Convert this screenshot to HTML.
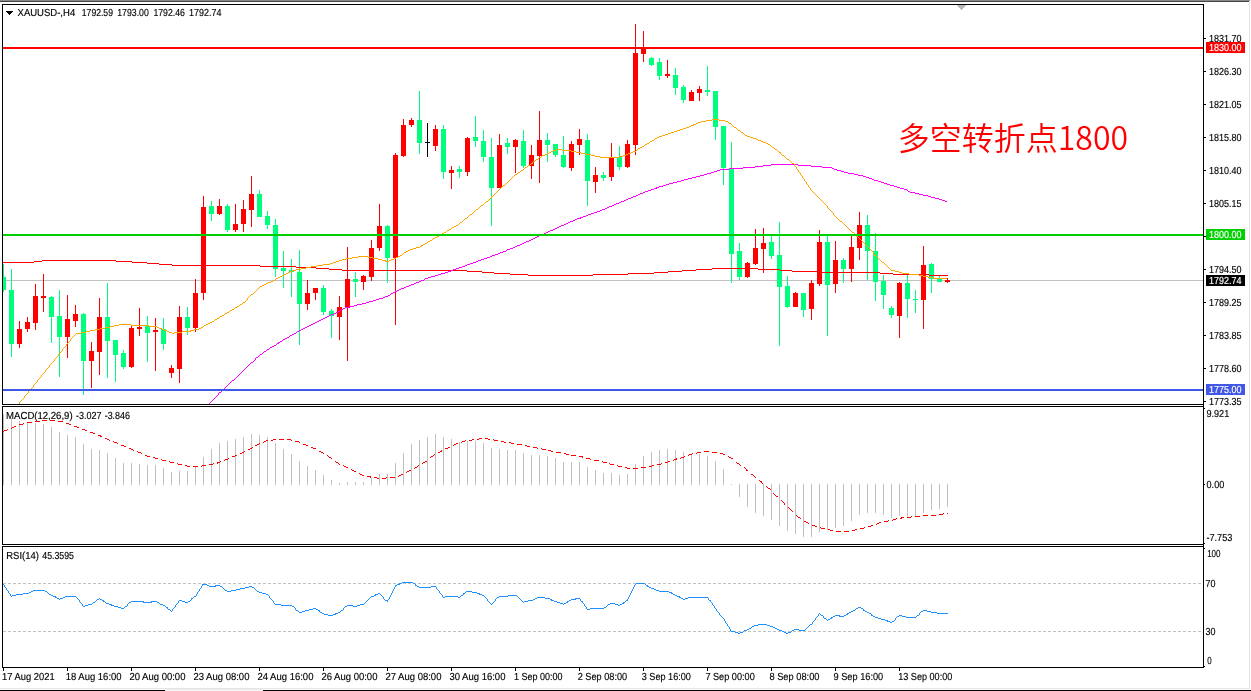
<!DOCTYPE html>
<html lang="en"><head><meta charset="utf-8"><title>XAUUSD H4</title>
<style>
html,body{margin:0;padding:0;background:#fff;}
body{width:1251px;height:691px;overflow:hidden;position:relative;}
svg{position:absolute;left:0;top:0;display:block;}
.t{font-family:"Liberation Sans", sans-serif;font-size:10.2px;fill:#000;stroke:#000;stroke-width:0.15px;text-rendering:geometricPrecision;}
.w{fill:#fff;stroke:#fff;}
.cn{font-family:"Noto Sans CJK SC","Liberation Sans",sans-serif;font-weight:350;font-size:32px;fill:#f00;}
</style></head><body>
<svg width="1251" height="691" viewBox="0 0 1251 691">
<rect x="0" y="0" width="1251" height="691" fill="#fff"/>
<g shape-rendering="crispEdges">
<rect x="0" y="0" width="1250" height="1" fill="#8a8a8a"/>
<rect x="0" y="1" width="1249" height="1" fill="#444444"/>
<rect x="1249" y="2" width="1" height="687" fill="#e6e6e6"/>
<rect x="0" y="688" width="1250" height="1" fill="#e6e6e6"/>
<rect x="165" y="689" width="98" height="1" fill="#ececec"/>
<rect x="165" y="690" width="98" height="1" fill="#f8f8f8"/>
<rect x="0" y="690" width="165" height="1" fill="#000"/>
<rect x="263" y="690" width="988" height="1" fill="#000"/>
<rect x="3" y="280" width="1200" height="1" fill="#c0c0c0"/>
<path fill="#00ff7f" d="M3 264h1v28h-1zM3 277h3v13h-3zM11 269h1v88h-1zM9 290h5v54h-5zM51 296h1v47h-1zM49 297h5v20h-5zM59 290h1v87h-1zM57 316h5v21h-5zM83 313h1v82h-1zM81 314h5v47h-5zM107 283h1v95h-1zM105 317h5v24h-5zM115 340h1v42h-1zM113 340h5v15h-5zM123 350h1v19h-1zM121 353h5v14h-5zM147 316h1v46h-1zM145 326h5v7h-5zM163 318h1v32h-1zM161 329h5v15h-5zM187 307h1v28h-1zM185 317h5v11h-5zM211 201h1v20h-1zM209 206h5v8h-5zM227 204h1v28h-1zM225 206h5v24h-5zM259 190h1v27h-1zM257 194h5v23h-5zM267 211h1v18h-1zM265 216h5v9h-5zM275 219h1v58h-1zM273 225h5v44h-5zM283 251h1v37h-1zM281 268h5v3h-5zM291 259h1v38h-1zM289 270h5v2h-5zM299 250h1v95h-1zM297 272h5v32h-5zM323 285h1v30h-1zM321 288h5v24h-5zM331 309h1v29h-1zM329 311h5v5h-5zM355 272h1v25h-1zM353 279h5v3h-5zM387 225h1v58h-1zM385 226h5v32h-5zM419 91h1v63h-1zM417 120h5v23h-5zM443 125h1v54h-1zM441 129h5v43h-5zM459 166h1v12h-1zM457 169h5v3h-5zM475 116h1v31h-1zM473 137h5v4h-5zM483 130h1v32h-1zM481 141h5v16h-5zM491 138h1v88h-1zM489 157h5v31h-5zM507 138h1v16h-1zM505 143h5v4h-5zM523 130h1v38h-1zM521 141h5v25h-5zM547 133h1v29h-1zM545 140h5v5h-5zM555 144h1v13h-1zM553 144h5v11h-5zM563 136h1v32h-1zM561 155h5v12h-5zM587 134h1v72h-1zM585 140h5v41h-5zM603 172h1v9h-1zM601 175h5v3h-5zM619 146h1v24h-1zM617 157h5v10h-5zM651 57h1v9h-1zM649 58h5v7h-5zM659 58h1v22h-1zM657 62h5v14h-5zM675 68h1v27h-1zM673 75h5v13h-5zM683 85h1v18h-1zM681 87h5v13h-5zM707 66h1v30h-1zM705 90h5v2h-5zM715 91h1v49h-1zM713 91h5v36h-5zM723 126h1v59h-1zM721 126h5v42h-5zM731 142h1v141h-1zM729 168h5v86h-5zM739 243h1v37h-1zM737 251h5v26h-5zM771 236h1v23h-1zM769 242h5v14h-5zM779 222h1v124h-1zM777 255h5v32h-5zM787 276h1v32h-1zM785 286h5v21h-5zM803 293h1v24h-1zM801 293h5v17h-5zM827 236h1v100h-1zM825 242h5v43h-5zM843 258h1v25h-1zM841 260h5v9h-5zM867 215h1v65h-1zM865 225h5v26h-5zM875 233h1v68h-1zM873 251h5v31h-5zM883 275h1v34h-1zM881 281h5v14h-5zM891 306h1v12h-1zM889 308h5v7h-5zM907 275h1v43h-1zM905 283h5v16h-5zM915 290h1v23h-1zM913 299h5v1h-5zM931 263h1v30h-1zM929 264h5v15h-5zM939 276h1v6h-1zM937 278h5v4h-5z"/>
<path fill="#ff0000" d="M19 321h1v27h-1zM17 329h5v15h-5zM27 317h1v15h-1zM25 322h5v7h-5zM35 284h1v46h-1zM33 296h5v27h-5zM43 274h1v38h-1zM41 296h5v2h-5zM67 295h1v63h-1zM65 319h5v18h-5zM75 305h1v22h-1zM73 314h5v7h-5zM91 342h1v46h-1zM89 351h5v10h-5zM99 298h1v77h-1zM97 317h5v35h-5zM131 326h1v42h-1zM129 328h5v39h-5zM139 308h1v28h-1zM137 327h5v2h-5zM155 318h1v53h-1zM153 330h5v2h-5zM171 365h1v13h-1zM169 368h5v5h-5zM179 306h1v77h-1zM177 317h5v52h-5zM195 279h1v53h-1zM193 293h5v35h-5zM203 196h1v104h-1zM201 207h5v86h-5zM219 199h1v16h-1zM217 206h5v8h-5zM235 204h1v28h-1zM233 224h5v6h-5zM243 200h1v32h-1zM241 209h5v15h-5zM251 176h1v51h-1zM249 194h5v16h-5zM307 280h1v30h-1zM305 293h5v11h-5zM315 288h1v12h-1zM313 288h5v5h-5zM339 296h1v44h-1zM337 307h5v10h-5zM347 247h1v114h-1zM345 279h5v29h-5zM363 275h1v15h-1zM361 276h5v6h-5zM371 240h1v41h-1zM369 248h5v29h-5zM379 204h1v47h-1zM377 226h5v22h-5zM395 153h1v172h-1zM393 155h5v103h-5zM403 119h1v38h-1zM401 125h5v31h-5zM411 118h1v9h-1zM409 120h5v5h-5zM435 125h1v26h-1zM433 129h5v17h-5zM451 166h1v23h-1zM449 170h5v3h-5zM467 137h1v39h-1zM465 138h5v34h-5zM499 134h1v54h-1zM497 145h5v43h-5zM515 139h1v34h-1zM513 140h5v7h-5zM531 145h1v34h-1zM529 155h5v11h-5zM539 111h1v72h-1zM537 140h5v16h-5zM571 141h1v30h-1zM569 144h5v24h-5zM579 129h1v26h-1zM577 139h5v6h-5zM595 167h1v26h-1zM593 175h5v7h-5zM611 143h1v38h-1zM609 157h5v20h-5zM627 140h1v28h-1zM625 144h5v23h-5zM635 24h1v131h-1zM633 53h5v92h-5zM643 31h1v31h-1zM641 48h5v6h-5zM667 60h1v18h-1zM665 74h5v2h-5zM691 90h1v11h-1zM689 92h5v9h-5zM699 86h1v15h-1zM697 89h5v4h-5zM747 262h1v16h-1zM745 263h5v14h-5zM755 229h1v36h-1zM753 248h5v16h-5zM763 228h1v45h-1zM761 243h5v6h-5zM795 292h1v15h-1zM793 293h5v14h-5zM811 280h1v40h-1zM809 283h5v26h-5zM819 230h1v56h-1zM817 242h5v42h-5zM835 241h1v52h-1zM833 260h5v24h-5zM851 236h1v46h-1zM849 247h5v22h-5zM859 212h1v48h-1zM857 225h5v23h-5zM899 282h1v56h-1zM897 283h5v33h-5zM923 246h1v83h-1zM921 265h5v35h-5zM947 278h1v5h-1zM945 280h5v2h-5z"/>
<path fill="#000000" d="M427 123h1v34h-1zM425 142h5v1h-5z"/>
<path fill="#ff0000" d="M42 260h74v1h-74zM34 261h8v1h-8zM116 261h16v1h-16zM3 262h31v1h-31zM132 262h15v1h-15zM147 263h12v1h-12zM159 264h13v1h-13zM172 265h88v1h-88zM260 266h36v1h-36zM296 267h20v1h-20zM316 268h13v1h-13zM712 268h46v1h-46zM329 269h13v1h-13zM696 269h16v1h-16zM758 269h22v1h-22zM342 270h125v1h-125zM682 270h14v1h-14zM780 270h12v1h-12zM467 271h15v1h-15zM668 271h14v1h-14zM792 271h28v1h-28zM482 272h12v1h-12zM654 272h14v1h-14zM820 272h60v1h-60zM494 273h16v1h-16zM628 273h26v1h-26zM880 273h13v1h-13zM510 274h18v1h-18zM593 274h35v1h-35zM893 274h36v1h-36zM528 275h65v1h-65zM929 275h19v1h-19zM395 271h1v1h-1z"/>
<path fill="#ff00ff" d="M771 164h27v1h-27zM763 165h8v1h-8zM798 165h13v1h-13zM755 166h8v1h-8zM811 166h11v1h-11zM743 167h12v1h-12zM822 167h10v1h-10zM729 168h14v1h-14zM832 168h2v1h-2zM720 169h9v1h-9zM834 169h3v1h-3zM717 170h3v1h-3zM837 170h4v1h-4zM714 171h3v1h-3zM841 171h3v1h-3zM711 172h3v1h-3zM844 172h4v1h-4zM707 173h4v1h-4zM848 173h6v1h-6zM704 174h3v1h-3zM854 174h4v1h-4zM700 175h4v1h-4zM858 175h5v1h-5zM696 176h4v1h-4zM863 176h3v1h-3zM692 177h4v1h-4zM866 177h3v1h-3zM688 178h4v1h-4zM869 178h3v1h-3zM684 179h4v1h-4zM872 179h2v1h-2zM681 180h3v1h-3zM874 180h4v1h-4zM677 181h4v1h-4zM878 181h3v1h-3zM673 182h4v1h-4zM881 182h3v1h-3zM669 183h4v1h-4zM884 183h3v1h-3zM666 184h3v1h-3zM887 184h3v1h-3zM663 185h3v1h-3zM890 185h4v1h-4zM659 186h4v1h-4zM894 186h3v1h-3zM656 187h3v1h-3zM897 187h3v1h-3zM654 188h3v1h-3zM900 188h4v1h-4zM651 189h3v1h-3zM904 189h3v1h-3zM648 190h3v1h-3zM645 191h3v1h-3zM908 191h2v1h-2zM643 192h2v1h-2zM910 192h5v1h-5zM640 193h3v1h-3zM915 193h4v1h-4zM638 194h2v1h-2zM919 194h4v1h-4zM636 195h2v1h-2zM923 195h5v1h-5zM633 196h3v1h-3zM928 196h3v1h-3zM631 197h2v1h-2zM931 197h4v1h-4zM628 198h3v1h-3zM935 198h4v1h-4zM626 199h2v1h-2zM939 199h3v1h-3zM624 200h2v1h-2zM942 200h3v1h-3zM621 201h3v1h-3zM945 201h2v1h-2zM619 202h2v1h-2zM616 203h3v1h-3zM614 204h2v1h-2zM612 205h2v1h-2zM609 206h3v1h-3zM607 207h2v1h-2zM605 208h2v1h-2zM602 209h3v1h-3zM600 210h2v1h-2zM597 211h3v1h-3zM594 212h3v1h-3zM591 213h3v1h-3zM588 214h3v1h-3zM586 215h2v1h-2zM583 216h3v1h-3zM580 217h3v1h-3zM577 218h4v1h-4zM575 219h2v1h-2zM573 220h2v1h-2zM570 221h3v1h-3zM568 222h2v1h-2zM566 223h2v1h-2zM564 224h2v1h-2zM561 225h3v1h-3zM559 226h2v1h-2zM557 227h2v1h-2zM555 228h2v1h-2zM553 229h2v1h-2zM550 230h3v1h-3zM548 231h2v1h-2zM546 232h2v1h-2zM544 233h2v1h-2zM541 234h3v1h-3zM539 235h2v1h-2zM537 236h2v1h-2zM535 237h2v1h-2zM533 238h2v1h-2zM531 239h2v1h-2zM529 240h2v1h-2zM526 241h3v1h-3zM524 242h2v1h-2zM522 243h2v1h-2zM520 244h2v1h-2zM517 245h3v1h-3zM515 246h2v1h-2zM513 247h2v1h-2zM510 248h3v1h-3zM507 249h3v1h-3zM503 251h3v1h-3zM500 252h3v1h-3zM498 253h2v1h-2zM495 254h3v1h-3zM492 255h3v1h-3zM490 256h2v1h-2zM487 257h3v1h-3zM484 258h3v1h-3zM481 259h3v1h-3zM478 260h3v1h-3zM476 261h2v1h-2zM473 262h3v1h-3zM470 263h3v1h-3zM467 264h3v1h-3zM465 265h2v1h-2zM462 266h3v1h-3zM459 267h3v1h-3zM456 268h3v1h-3zM453 269h3v1h-3zM450 270h3v1h-3zM448 271h3v1h-3zM445 272h3v1h-3zM441 273h4v1h-4zM438 274h3v1h-3zM435 275h3v1h-3zM431 276h4v1h-4zM428 277h3v1h-3zM425 278h3v1h-3zM421 280h3v1h-3zM419 281h2v1h-2zM416 282h3v1h-3zM414 283h2v1h-2zM411 284h3v1h-3zM409 285h2v1h-2zM406 286h3v1h-3zM404 287h2v1h-2zM401 288h3v1h-3zM399 289h2v1h-2zM397 290h2v1h-2zM395 291h2v1h-2zM393 292h2v1h-2zM391 293h2v1h-2zM388 295h2v1h-2zM385 296h3v1h-3zM383 297h2v1h-2zM379 298h4v1h-4zM376 299h3v1h-3zM373 300h3v1h-3zM369 301h4v1h-4zM366 302h3v1h-3zM362 303h4v1h-4zM357 304h5v1h-5zM354 305h3v1h-3zM349 306h5v1h-5zM345 307h4v1h-4zM343 308h2v1h-2zM341 309h2v1h-2zM338 311h2v1h-2zM336 312h2v1h-2zM334 313h2v1h-2zM331 314h3v1h-3zM329 315h2v1h-2zM327 316h2v1h-2zM325 317h2v1h-2zM323 318h2v1h-2zM321 319h2v1h-2zM319 320h2v1h-2zM317 321h2v1h-2zM315 322h2v1h-2zM313 323h2v1h-2zM311 324h2v1h-2zM309 325h2v1h-2zM307 326h2v1h-2zM305 327h2v1h-2zM303 328h2v1h-2zM301 329h2v1h-2zM299 330h2v1h-2zM297 331h2v1h-2zM294 333h2v1h-2zM292 334h2v1h-2zM290 335h2v1h-2zM287 337h2v1h-2zM285 338h2v1h-2zM283 339h2v1h-2zM280 341h2v1h-2zM278 342h2v1h-2zM277 343h2v1h-2zM274 345h2v1h-2zM272 346h2v1h-2zM270 347h2v1h-2zM267 349h2v1h-2zM264 351h2v1h-2zM260 354h2v1h-2zM256 357h2v1h-2zM251 362h2v1h-2zM232 380h2v1h-2zM219 392h2v1h-2zM209 403h1v1h-1zM210 402h1v1h-1zM211 401h1v1h-1zM212 400h1v1h-1zM213 399h1v1h-1zM214 398h1v1h-1zM215 397h1v1h-1zM216 396h1v1h-1zM217 395h1v1h-1zM218 393h1v2h-1zM221 391h1v1h-1zM222 390h1v1h-1zM223 389h1v1h-1zM224 388h1v1h-1zM225 387h1v1h-1zM226 386h1v1h-1zM227 385h1v1h-1zM228 384h1v1h-1zM229 383h1v1h-1zM230 382h1v1h-1zM231 381h1v1h-1zM234 379h1v1h-1zM235 378h1v1h-1zM236 377h1v1h-1zM237 376h1v1h-1zM238 375h1v1h-1zM239 374h1v1h-1zM240 373h1v1h-1zM241 372h1v1h-1zM242 371h1v1h-1zM243 370h1v1h-1zM244 369h1v1h-1zM245 368h1v1h-1zM246 367h1v1h-1zM247 366h1v1h-1zM248 365h1v1h-1zM249 364h1v1h-1zM250 363h1v1h-1zM253 361h1v1h-1zM254 360h1v1h-1zM255 358h1v2h-1zM258 356h1v1h-1zM259 355h1v1h-1zM262 353h1v1h-1zM263 352h1v1h-1zM266 350h1v1h-1zM269 348h1v1h-1zM276 344h1v1h-1zM282 340h1v1h-1zM289 336h1v1h-1zM296 332h1v1h-1zM340 310h1v1h-1zM390 294h1v1h-1zM424 279h1v1h-1zM506 250h1v1h-1zM907 190h1v1h-1z"/>
<path fill="#ffa500" d="M712 119h7v1h-7zM706 120h6v1h-6zM719 120h6v1h-6zM701 121h5v1h-5zM725 121h3v1h-3zM698 122h3v1h-3zM696 123h2v1h-2zM729 123h2v1h-2zM693 124h3v1h-3zM691 125h3v1h-3zM689 126h2v1h-2zM686 127h3v1h-3zM734 127h2v1h-2zM683 128h3v1h-3zM680 129h3v1h-3zM677 130h3v1h-3zM738 130h2v1h-2zM674 131h3v1h-3zM671 132h3v1h-3zM741 132h2v1h-2zM668 133h3v1h-3zM665 134h3v1h-3zM662 135h3v1h-3zM745 135h2v1h-2zM659 136h3v1h-3zM747 136h3v1h-3zM657 137h2v1h-2zM750 137h3v1h-3zM655 138h2v1h-2zM753 138h3v1h-3zM756 139h2v1h-2zM652 140h2v1h-2zM758 140h3v1h-3zM650 141h2v1h-2zM761 141h2v1h-2zM763 142h3v1h-3zM647 143h2v1h-2zM766 143h2v1h-2zM645 144h2v1h-2zM768 144h2v1h-2zM642 146h2v1h-2zM640 147h2v1h-2zM772 147h2v1h-2zM638 148h2v1h-2zM556 149h6v1h-6zM775 149h2v1h-2zM553 150h3v1h-3zM562 150h9v1h-9zM551 151h2v1h-2zM571 151h5v1h-5zM633 151h3v1h-3zM549 152h2v1h-2zM576 152h5v1h-5zM631 152h2v1h-2zM779 152h2v1h-2zM547 153h2v1h-2zM581 153h5v1h-5zM628 153h3v1h-3zM545 154h2v1h-2zM586 154h5v1h-5zM626 154h2v1h-2zM542 155h3v1h-3zM591 155h4v1h-4zM623 155h3v1h-3zM782 155h2v1h-2zM595 156h5v1h-5zM619 156h4v1h-4zM539 157h2v1h-2zM600 157h19v1h-19zM536 159h2v1h-2zM787 159h2v1h-2zM533 161h2v1h-2zM531 163h2v1h-2zM792 163h2v1h-2zM528 165h2v1h-2zM525 167h2v1h-2zM521 170h2v1h-2zM518 172h2v1h-2zM515 174h2v1h-2zM503 185h2v1h-2zM491 196h2v1h-2zM486 201h2v1h-2zM481 205h2v1h-2zM476 209h2v1h-2zM470 214h2v1h-2zM465 218h2v1h-2zM840 221h2v1h-2zM460 222h2v1h-2zM456 225h2v1h-2zM454 226h2v1h-2zM452 227h2v1h-2zM449 229h2v1h-2zM447 230h2v1h-2zM444 232h2v1h-2zM852 232h2v1h-2zM442 233h2v1h-2zM440 234h2v1h-2zM437 236h2v1h-2zM856 236h2v1h-2zM435 237h2v1h-2zM433 238h2v1h-2zM430 240h2v1h-2zM428 241h2v1h-2zM425 243h2v1h-2zM423 244h2v1h-2zM421 245h2v1h-2zM420 246h2v1h-2zM416 247h4v1h-4zM413 248h3v1h-3zM410 249h3v1h-3zM408 250h2v1h-2zM406 251h2v1h-2zM404 252h2v1h-2zM400 255h2v1h-2zM874 255h2v1h-2zM358 256h10v1h-10zM398 256h2v1h-2zM352 257h6v1h-6zM368 257h5v1h-5zM396 257h2v1h-2zM346 258h6v1h-6zM373 258h5v1h-5zM394 258h2v1h-2zM342 259h4v1h-4zM378 259h4v1h-4zM391 259h3v1h-3zM339 260h3v1h-3zM382 260h4v1h-4zM389 260h2v1h-2zM336 261h3v1h-3zM385 261h4v1h-4zM333 262h3v1h-3zM882 262h2v1h-2zM330 263h3v1h-3zM323 264h7v1h-7zM317 265h6v1h-6zM311 266h6v1h-6zM306 267h5v1h-5zM301 268h5v1h-5zM296 269h5v1h-5zM292 270h4v1h-4zM891 270h4v1h-4zM290 271h2v1h-2zM895 271h4v1h-4zM288 272h2v1h-2zM899 272h3v1h-3zM286 273h2v1h-2zM902 273h7v1h-7zM284 274h2v1h-2zM909 274h10v1h-10zM282 275h2v1h-2zM919 275h4v1h-4zM280 276h2v1h-2zM923 276h5v1h-5zM278 277h2v1h-2zM928 277h5v1h-5zM276 278h2v1h-2zM933 278h14v1h-14zM273 280h2v1h-2zM271 281h2v1h-2zM268 282h3v1h-3zM266 283h2v1h-2zM264 284h2v1h-2zM262 285h2v1h-2zM260 286h2v1h-2zM251 294h2v1h-2zM243 302h2v1h-2zM240 304h2v1h-2zM237 306h2v1h-2zM235 307h2v1h-2zM232 309h2v1h-2zM230 310h2v1h-2zM227 312h2v1h-2zM225 313h2v1h-2zM222 315h2v1h-2zM220 316h2v1h-2zM217 318h2v1h-2zM215 319h2v1h-2zM212 321h2v1h-2zM210 322h2v1h-2zM208 323h2v1h-2zM119 324h12v1h-12zM206 324h2v1h-2zM114 325h5v1h-5zM131 325h18v1h-18zM204 325h2v1h-2zM110 326h4v1h-4zM149 326h8v1h-8zM105 327h5v1h-5zM157 327h2v1h-2zM201 327h2v1h-2zM100 328h5v1h-5zM159 328h3v1h-3zM199 328h2v1h-2zM95 329h5v1h-5zM162 329h2v1h-2zM194 329h5v1h-5zM90 330h5v1h-5zM164 330h3v1h-3zM190 330h4v1h-4zM86 331h4v1h-4zM167 331h2v1h-2zM182 331h9v1h-9zM81 332h5v1h-5zM169 332h3v1h-3zM174 332h8v1h-8zM76 333h5v1h-5zM172 333h2v1h-2zM19 402h1v2h-1zM20 401h1v1h-1zM21 400h1v1h-1zM22 399h1v1h-1zM23 398h1v1h-1zM24 396h1v2h-1zM25 395h1v1h-1zM26 394h1v1h-1zM27 393h1v1h-1zM28 391h1v2h-1zM29 390h1v1h-1zM30 389h1v1h-1zM31 388h1v1h-1zM32 387h1v1h-1zM33 385h1v2h-1zM34 384h1v1h-1zM35 383h1v1h-1zM36 382h1v1h-1zM37 380h1v2h-1zM38 379h1v1h-1zM39 378h1v1h-1zM40 377h1v1h-1zM41 375h1v2h-1zM42 374h1v1h-1zM43 373h1v1h-1zM44 372h1v1h-1zM45 370h1v2h-1zM46 369h1v1h-1zM47 368h1v1h-1zM48 367h1v1h-1zM49 365h1v2h-1zM50 364h1v1h-1zM51 363h1v1h-1zM52 362h1v1h-1zM53 361h1v1h-1zM54 359h1v2h-1zM55 358h1v1h-1zM56 357h1v1h-1zM57 356h1v1h-1zM58 354h1v2h-1zM59 353h1v1h-1zM60 352h1v1h-1zM61 351h1v1h-1zM62 349h1v2h-1zM63 348h1v1h-1zM64 347h1v1h-1zM65 346h1v1h-1zM66 344h1v2h-1zM67 343h1v1h-1zM68 342h1v1h-1zM69 341h1v1h-1zM70 339h1v2h-1zM71 338h1v1h-1zM72 337h1v1h-1zM73 336h1v1h-1zM74 335h1v1h-1zM75 334h1v1h-1zM203 326h1v1h-1zM214 320h1v1h-1zM219 317h1v1h-1zM224 314h1v1h-1zM229 311h1v1h-1zM234 308h1v1h-1zM239 305h1v1h-1zM242 303h1v1h-1zM245 301h1v1h-1zM246 300h1v1h-1zM247 298h1v2h-1zM248 297h1v1h-1zM249 296h1v1h-1zM250 295h1v1h-1zM253 293h1v1h-1zM254 292h1v1h-1zM255 291h1v1h-1zM256 290h1v1h-1zM257 289h1v1h-1zM258 288h1v1h-1zM259 287h1v1h-1zM275 279h1v1h-1zM402 254h1v1h-1zM403 253h1v1h-1zM427 242h1v1h-1zM432 239h1v1h-1zM439 235h1v1h-1zM446 231h1v1h-1zM451 228h1v1h-1zM458 224h1v1h-1zM459 223h1v1h-1zM462 221h1v1h-1zM463 220h1v1h-1zM464 219h1v1h-1zM467 217h1v1h-1zM468 216h1v1h-1zM469 215h1v1h-1zM472 213h1v1h-1zM473 212h1v1h-1zM474 211h1v1h-1zM475 210h1v1h-1zM478 208h1v1h-1zM479 207h1v1h-1zM480 206h1v1h-1zM483 204h1v1h-1zM484 203h1v1h-1zM485 202h1v1h-1zM488 200h1v1h-1zM489 199h1v1h-1zM490 198h1v1h-1zM491 197h1v1h-1zM493 195h1v1h-1zM494 194h1v1h-1zM495 193h1v1h-1zM496 192h1v1h-1zM497 191h1v1h-1zM498 190h1v1h-1zM499 189h1v1h-1zM500 188h1v1h-1zM501 187h1v1h-1zM502 186h1v1h-1zM505 184h1v1h-1zM506 183h1v1h-1zM507 182h1v1h-1zM508 181h1v1h-1zM509 180h1v1h-1zM510 179h1v1h-1zM511 178h1v1h-1zM512 177h1v1h-1zM513 176h1v1h-1zM514 175h1v1h-1zM517 173h1v1h-1zM520 171h1v1h-1zM523 169h1v1h-1zM524 168h1v1h-1zM527 166h1v1h-1zM530 164h1v1h-1zM532 162h1v1h-1zM535 160h1v1h-1zM538 158h1v1h-1zM541 156h1v1h-1zM636 150h1v1h-1zM637 149h1v1h-1zM644 145h1v1h-1zM649 142h1v1h-1zM654 139h1v1h-1zM728 122h1v1h-1zM731 124h1v1h-1zM732 125h1v1h-1zM733 126h1v1h-1zM736 128h1v1h-1zM737 129h1v1h-1zM740 131h1v1h-1zM743 133h1v1h-1zM744 134h1v1h-1zM770 145h1v1h-1zM771 146h1v1h-1zM774 148h1v1h-1zM777 150h1v1h-1zM778 151h1v1h-1zM780 153h1v1h-1zM781 154h1v1h-1zM784 156h1v1h-1zM785 157h1v1h-1zM786 158h1v1h-1zM789 160h1v1h-1zM790 161h1v1h-1zM791 162h1v1h-1zM794 164h1v2h-1zM795 166h1v1h-1zM796 167h1v2h-1zM797 169h1v1h-1zM798 170h1v2h-1zM799 172h1v1h-1zM800 173h1v2h-1zM801 175h1v1h-1zM802 176h1v2h-1zM803 178h1v1h-1zM804 179h1v2h-1zM805 181h1v1h-1zM806 182h1v2h-1zM807 184h1v1h-1zM808 185h1v2h-1zM809 187h1v1h-1zM810 188h1v2h-1zM811 190h1v1h-1zM812 191h1v1h-1zM813 192h1v1h-1zM814 193h1v1h-1zM815 194h1v1h-1zM816 195h1v1h-1zM817 196h1v1h-1zM818 197h1v1h-1zM819 198h1v1h-1zM820 199h1v1h-1zM821 200h1v1h-1zM822 201h1v1h-1zM823 202h1v1h-1zM824 203h1v1h-1zM825 204h1v1h-1zM826 205h1v1h-1zM827 206h1v2h-1zM828 208h1v1h-1zM829 209h1v1h-1zM830 210h1v1h-1zM831 211h1v1h-1zM832 212h1v1h-1zM833 213h1v2h-1zM834 215h1v1h-1zM835 216h1v1h-1zM836 217h1v1h-1zM837 218h1v1h-1zM838 219h1v1h-1zM839 220h1v1h-1zM842 222h1v1h-1zM843 223h1v1h-1zM844 224h1v1h-1zM845 225h1v1h-1zM846 226h1v1h-1zM847 227h1v1h-1zM848 228h1v1h-1zM849 229h1v1h-1zM850 230h1v1h-1zM851 231h1v1h-1zM854 233h1v1h-1zM855 234h1v2h-1zM858 237h1v1h-1zM859 238h1v1h-1zM860 239h1v1h-1zM861 240h1v1h-1zM862 241h1v1h-1zM863 242h1v1h-1zM864 243h1v1h-1zM865 244h1v1h-1zM866 245h1v1h-1zM867 246h1v1h-1zM868 247h1v1h-1zM869 248h1v1h-1zM870 249h1v1h-1zM871 250h1v1h-1zM872 251h1v1h-1zM873 252h1v2h-1zM874 254h1v1h-1zM876 256h1v1h-1zM877 257h1v1h-1zM878 258h1v1h-1zM879 259h1v1h-1zM880 260h1v1h-1zM881 261h1v1h-1zM884 263h1v1h-1zM885 264h1v1h-1zM886 265h1v1h-1zM887 266h1v1h-1zM888 267h1v1h-1zM889 268h1v1h-1zM890 269h1v1h-1z"/>
<rect x="3" y="47" width="1200" height="2" fill="#ff0000"/>
<rect x="3" y="234" width="1200" height="2" fill="#00d000"/>
<rect x="3" y="389" width="1200" height="2" fill="#4158e6"/>
<path fill="#c0c0c0" d="M3 414h1v71h-1zM11 418h1v67h-1zM19 421h1v64h-1zM27 422h1v63h-1zM35 423h1v62h-1zM43 424h1v61h-1zM51 427h1v58h-1zM59 432h1v53h-1zM67 435h1v50h-1zM75 437h1v48h-1zM83 444h1v41h-1zM91 449h1v36h-1zM99 450h1v35h-1zM107 453h1v32h-1zM115 458h1v27h-1zM123 463h1v22h-1zM131 463h1v22h-1zM139 464h1v21h-1zM147 465h1v20h-1zM155 465h1v20h-1zM163 468h1v17h-1zM171 472h1v13h-1zM179 471h1v14h-1zM187 471h1v14h-1zM195 467h1v18h-1zM203 457h1v28h-1zM211 449h1v36h-1zM219 443h1v42h-1zM227 441h1v44h-1zM235 439h1v46h-1zM243 437h1v48h-1zM251 434h1v51h-1zM259 435h1v50h-1zM267 437h1v48h-1zM275 443h1v42h-1zM283 449h1v36h-1zM291 454h1v31h-1zM299 461h1v24h-1zM307 466h1v19h-1zM315 470h1v15h-1zM323 475h1v10h-1zM331 480h1v5h-1zM339 483h1v2h-1zM347 482h1v3h-1zM355 482h1v3h-1zM363 482h1v3h-1zM371 478h1v7h-1zM379 474h1v11h-1zM387 474h1v11h-1zM395 463h1v22h-1zM403 453h1v32h-1zM411 444h1v41h-1zM419 440h1v45h-1zM427 437h1v48h-1zM435 434h1v51h-1zM443 437h1v48h-1zM451 439h1v46h-1zM459 442h1v43h-1zM467 441h1v44h-1zM475 441h1v44h-1zM483 443h1v42h-1zM491 448h1v37h-1zM499 449h1v36h-1zM507 450h1v35h-1zM515 450h1v35h-1zM523 453h1v32h-1zM531 455h1v30h-1zM539 455h1v30h-1zM547 456h1v29h-1zM555 458h1v27h-1zM563 462h1v23h-1zM571 462h1v23h-1zM579 462h1v23h-1zM587 467h1v18h-1zM595 470h1v15h-1zM603 473h1v12h-1zM611 473h1v12h-1zM619 475h1v10h-1zM627 474h1v11h-1zM635 464h1v21h-1zM643 456h1v29h-1zM651 452h1v33h-1zM659 450h1v35h-1zM667 449h1v36h-1zM675 450h1v35h-1zM683 452h1v33h-1zM691 454h1v31h-1zM699 454h1v31h-1zM707 456h1v29h-1zM715 461h1v24h-1zM723 469h1v16h-1zM731 484h1v1h-1zM739 484h1v13h-1zM747 484h1v23h-1zM755 484h1v29h-1zM763 484h1v32h-1zM771 484h1v36h-1zM779 484h1v42h-1zM787 484h1v47h-1zM795 484h1v50h-1zM803 484h1v53h-1zM811 484h1v53h-1zM819 484h1v48h-1zM827 484h1v46h-1zM835 484h1v44h-1zM843 484h1v42h-1zM851 484h1v37h-1zM859 484h1v31h-1zM867 484h1v29h-1zM875 484h1v29h-1zM883 484h1v31h-1zM891 484h1v34h-1zM899 484h1v32h-1zM907 484h1v33h-1zM915 484h1v32h-1zM923 484h1v29h-1zM931 484h1v26h-1zM939 484h1v25h-1zM947 484h1v23h-1z"/>
<path fill="#ff0000" d="M42 420h5v1h-5zM50 420h5v1h-5zM35 421h5v1h-5zM58 421h5v1h-5zM27 422h5v1h-5zM66 423h3v1h-3zM19 424h4v1h-4zM69 424h2v1h-2zM14 426h2v1h-2zM74 426h3v1h-3zM12 427h2v1h-2zM77 427h2v1h-2zM82 429h3v1h-3zM4 430h3v1h-3zM85 430h2v1h-2zM90 432h3v1h-3zM93 433h2v1h-2zM98 435h3v1h-3zM100 436h2v1h-2zM105 438h2v1h-2zM479 438h3v1h-3zM485 438h3v1h-3zM107 439h2v1h-2zM273 439h3v1h-3zM279 439h5v1h-5zM287 439h4v1h-4zM472 439h2v1h-2zM477 439h2v1h-2zM488 439h2v1h-2zM266 440h2v1h-2zM271 440h2v1h-2zM469 440h3v1h-3zM494 440h4v1h-4zM264 441h2v1h-2zM295 441h4v1h-4zM462 441h3v1h-3zM501 441h3v1h-3zM114 442h3v1h-3zM504 442h2v1h-2zM509 442h2v1h-2zM456 443h2v1h-2zM511 443h3v1h-3zM257 444h2v1h-2zM303 444h3v1h-3zM454 444h2v1h-2zM517 444h5v1h-5zM121 445h3v1h-3zM255 445h2v1h-2zM306 445h2v1h-2zM525 445h2v1h-2zM124 446h2v1h-2zM527 446h3v1h-3zM311 447h2v1h-2zM448 447h2v1h-2zM533 447h4v1h-4zM129 448h2v1h-2zM250 448h2v1h-2zM313 448h3v1h-3zM445 448h3v1h-3zM131 449h2v1h-2zM248 449h2v1h-2zM542 449h4v1h-4zM548 450h3v1h-3zM319 451h2v1h-2zM440 451h2v1h-2zM551 451h2v1h-2zM704 451h5v1h-5zM138 452h3v1h-3zM242 452h2v1h-2zM321 452h2v1h-2zM438 452h2v1h-2zM556 452h5v1h-5zM697 452h4v1h-4zM712 452h5v1h-5zM240 453h2v1h-2zM564 453h2v1h-2zM720 453h3v1h-3zM566 454h3v1h-3zM689 454h3v1h-3zM723 454h2v1h-2zM145 455h2v1h-2zM235 455h2v1h-2zM571 455h5v1h-5zM147 456h3v1h-3zM232 456h3v1h-3zM431 456h2v1h-2zM579 456h4v1h-4zM153 457h2v1h-2zM329 457h2v1h-2zM681 457h3v1h-3zM729 457h2v1h-2zM155 458h3v1h-3zM586 458h4v1h-4zM731 458h2v1h-2zM225 459h3v1h-3zM674 459h3v1h-3zM162 460h4v1h-4zM594 460h5v1h-5zM425 461h2v1h-2zM668 461h2v1h-2zM170 462h4v1h-4zM217 462h3v1h-3zM336 462h2v1h-2zM423 462h2v1h-2zM603 462h4v1h-4zM665 462h3v1h-3zM737 463h2v1h-2zM178 464h4v1h-4zM209 464h4v1h-4zM610 464h4v1h-4zM657 464h4v1h-4zM185 465h2v1h-2zM202 465h4v1h-4zM652 465h2v1h-2zM187 466h3v1h-3zM193 466h5v1h-5zM344 466h2v1h-2zM618 466h4v1h-4zM649 466h3v1h-3zM346 467h2v1h-2zM415 467h2v1h-2zM625 467h2v1h-2zM641 467h5v1h-5zM627 468h3v1h-3zM633 468h5v1h-5zM352 470h2v1h-2zM409 470h2v1h-2zM746 470h2v1h-2zM354 471h2v1h-2zM407 471h2v1h-2zM360 474h2v1h-2zM401 474h2v1h-2zM751 474h2v1h-2zM362 475h2v1h-2zM399 475h2v1h-2zM367 476h4v1h-4zM374 477h3v1h-3zM390 477h5v1h-5zM377 478h2v1h-2zM382 478h4v1h-4zM760 481h2v1h-2zM768 488h2v1h-2zM776 496h2v1h-2zM939 514h4v1h-4zM923 515h5v1h-5zM931 515h5v1h-5zM915 516h5v1h-5zM798 517h2v1h-2zM901 517h3v1h-3zM907 517h4v1h-4zM900 518h2v1h-2zM893 519h3v1h-3zM804 521h2v1h-2zM884 521h4v1h-4zM806 522h2v1h-2zM879 522h2v1h-2zM877 523h2v1h-2zM812 525h3v1h-3zM871 525h2v1h-2zM815 526h2v1h-2zM868 526h3v1h-3zM821 528h4v1h-4zM860 528h4v1h-4zM828 529h2v1h-2zM855 529h2v1h-2zM830 530h3v1h-3zM852 530h3v1h-3zM836 531h5v1h-5zM844 531h5v1h-5zM3 431h1v1h-1zM7 429h1v1h-1zM11 428h1v1h-1zM23 423h1v1h-1zM109 440h1v1h-1zM113 441h1v1h-1zM117 443h1v1h-1zM133 450h1v1h-1zM137 451h1v1h-1zM141 453h1v1h-1zM161 459h1v1h-1zM169 461h1v1h-1zM177 463h1v1h-1zM201 466h1v1h-1zM213 463h1v1h-1zM217 463h1v1h-1zM220 461h1v1h-1zM224 460h1v1h-1zM228 458h1v1h-1zM244 451h1v1h-1zM252 447h1v1h-1zM259 443h1v1h-1zM263 442h1v1h-1zM291 440h1v1h-1zM299 442h1v1h-1zM323 453h1v1h-1zM327 455h1v1h-1zM328 456h1v1h-1zM331 458h1v1h-1zM335 461h1v1h-1zM338 463h1v1h-1zM339 464h1v1h-1zM343 465h1v1h-1zM351 469h1v1h-1zM359 473h1v1h-1zM370 477h1v1h-1zM386 477h1v1h-1zM398 476h1v1h-1zM406 472h1v1h-1zM414 468h1v1h-1zM417 466h1v1h-1zM418 465h1v1h-1zM422 463h1v1h-1zM430 457h1v1h-1zM433 455h1v1h-1zM434 454h1v1h-1zM441 450h1v1h-1zM453 445h1v1h-1zM461 442h1v1h-1zM465 440h1v1h-1zM493 439h1v1h-1zM537 448h1v1h-1zM541 448h1v1h-1zM582 457h1v1h-1zM590 459h1v1h-1zM602 461h1v1h-1zM609 463h1v1h-1zM617 465h1v1h-1zM661 463h1v1h-1zM673 460h1v1h-1zM676 458h1v1h-1zM680 458h1v1h-1zM684 456h1v1h-1zM688 455h1v1h-1zM692 453h1v1h-1zM696 453h1v1h-1zM728 456h1v1h-1zM736 462h1v1h-1zM739 464h1v1h-1zM740 465h1v1h-1zM744 467h1v1h-1zM745 468h1v1h-1zM746 469h1v1h-1zM753 475h1v1h-1zM754 476h1v1h-1zM755 477h1v1h-1zM759 480h1v1h-1zM761 482h1v1h-1zM762 483h1v1h-1zM766 486h1v1h-1zM767 487h1v1h-1zM770 489h1v1h-1zM773 493h1v1h-1zM774 494h1v1h-1zM775 495h1v1h-1zM781 500h1v1h-1zM782 501h1v1h-1zM783 502h1v1h-1zM784 503h1v2h-1zM788 507h1v1h-1zM789 508h1v1h-1zM790 509h1v1h-1zM791 510h1v1h-1zM792 511h1v1h-1zM796 515h1v1h-1zM797 516h1v1h-1zM800 518h1v1h-1zM808 523h1v1h-1zM820 527h1v1h-1zM864 527h1v1h-1zM876 524h1v1h-1zM888 520h1v1h-1zM892 520h1v1h-1zM896 518h1v1h-1zM911 516h1v1h-1zM943 513h1v1h-1zM947 513h1v1h-1z"/>
<path fill="#c0c0c0" d="M3 583h3v1h-3zM8 583h3v1h-3zM13 583h3v1h-3zM18 583h3v1h-3zM23 583h3v1h-3zM28 583h3v1h-3zM33 583h3v1h-3zM38 583h3v1h-3zM43 583h3v1h-3zM48 583h3v1h-3zM53 583h3v1h-3zM58 583h3v1h-3zM63 583h3v1h-3zM68 583h3v1h-3zM73 583h3v1h-3zM78 583h3v1h-3zM83 583h3v1h-3zM88 583h3v1h-3zM93 583h3v1h-3zM98 583h3v1h-3zM103 583h3v1h-3zM108 583h3v1h-3zM113 583h3v1h-3zM118 583h3v1h-3zM123 583h3v1h-3zM128 583h3v1h-3zM133 583h3v1h-3zM138 583h3v1h-3zM143 583h3v1h-3zM148 583h3v1h-3zM153 583h3v1h-3zM158 583h3v1h-3zM163 583h3v1h-3zM168 583h3v1h-3zM173 583h3v1h-3zM178 583h3v1h-3zM183 583h3v1h-3zM188 583h3v1h-3zM193 583h3v1h-3zM198 583h3v1h-3zM203 583h3v1h-3zM208 583h3v1h-3zM213 583h3v1h-3zM218 583h3v1h-3zM223 583h3v1h-3zM228 583h3v1h-3zM233 583h3v1h-3zM238 583h3v1h-3zM243 583h3v1h-3zM248 583h3v1h-3zM253 583h3v1h-3zM258 583h3v1h-3zM263 583h3v1h-3zM268 583h3v1h-3zM273 583h3v1h-3zM278 583h3v1h-3zM283 583h3v1h-3zM288 583h3v1h-3zM293 583h3v1h-3zM298 583h3v1h-3zM303 583h3v1h-3zM308 583h3v1h-3zM313 583h3v1h-3zM318 583h3v1h-3zM323 583h3v1h-3zM328 583h3v1h-3zM333 583h3v1h-3zM338 583h3v1h-3zM343 583h3v1h-3zM348 583h3v1h-3zM353 583h3v1h-3zM358 583h3v1h-3zM363 583h3v1h-3zM368 583h3v1h-3zM373 583h3v1h-3zM378 583h3v1h-3zM383 583h3v1h-3zM388 583h3v1h-3zM393 583h3v1h-3zM398 583h3v1h-3zM403 583h3v1h-3zM408 583h3v1h-3zM413 583h3v1h-3zM418 583h3v1h-3zM423 583h3v1h-3zM428 583h3v1h-3zM433 583h3v1h-3zM438 583h3v1h-3zM443 583h3v1h-3zM448 583h3v1h-3zM453 583h3v1h-3zM458 583h3v1h-3zM463 583h3v1h-3zM468 583h3v1h-3zM473 583h3v1h-3zM478 583h3v1h-3zM483 583h3v1h-3zM488 583h3v1h-3zM493 583h3v1h-3zM498 583h3v1h-3zM503 583h3v1h-3zM508 583h3v1h-3zM513 583h3v1h-3zM518 583h3v1h-3zM523 583h3v1h-3zM528 583h3v1h-3zM533 583h3v1h-3zM538 583h3v1h-3zM543 583h3v1h-3zM548 583h3v1h-3zM553 583h3v1h-3zM558 583h3v1h-3zM563 583h3v1h-3zM568 583h3v1h-3zM573 583h3v1h-3zM578 583h3v1h-3zM583 583h3v1h-3zM588 583h3v1h-3zM593 583h3v1h-3zM598 583h3v1h-3zM603 583h3v1h-3zM608 583h3v1h-3zM613 583h3v1h-3zM618 583h3v1h-3zM623 583h3v1h-3zM628 583h3v1h-3zM633 583h3v1h-3zM638 583h3v1h-3zM643 583h3v1h-3zM648 583h3v1h-3zM653 583h3v1h-3zM658 583h3v1h-3zM663 583h3v1h-3zM668 583h3v1h-3zM673 583h3v1h-3zM678 583h3v1h-3zM683 583h3v1h-3zM688 583h3v1h-3zM693 583h3v1h-3zM698 583h3v1h-3zM703 583h3v1h-3zM708 583h3v1h-3zM713 583h3v1h-3zM718 583h3v1h-3zM723 583h3v1h-3zM728 583h3v1h-3zM733 583h3v1h-3zM738 583h3v1h-3zM743 583h3v1h-3zM748 583h3v1h-3zM753 583h3v1h-3zM758 583h3v1h-3zM763 583h3v1h-3zM768 583h3v1h-3zM773 583h3v1h-3zM778 583h3v1h-3zM783 583h3v1h-3zM788 583h3v1h-3zM793 583h3v1h-3zM798 583h3v1h-3zM803 583h3v1h-3zM808 583h3v1h-3zM813 583h3v1h-3zM818 583h3v1h-3zM823 583h3v1h-3zM828 583h3v1h-3zM833 583h3v1h-3zM838 583h3v1h-3zM843 583h3v1h-3zM848 583h3v1h-3zM853 583h3v1h-3zM858 583h3v1h-3zM863 583h3v1h-3zM868 583h3v1h-3zM873 583h3v1h-3zM878 583h3v1h-3zM883 583h3v1h-3zM888 583h3v1h-3zM893 583h3v1h-3zM898 583h3v1h-3zM903 583h3v1h-3zM908 583h3v1h-3zM913 583h3v1h-3zM918 583h3v1h-3zM923 583h3v1h-3zM928 583h3v1h-3zM933 583h3v1h-3zM938 583h3v1h-3zM943 583h3v1h-3zM948 583h3v1h-3zM953 583h3v1h-3zM958 583h3v1h-3zM963 583h3v1h-3zM968 583h3v1h-3zM973 583h3v1h-3zM978 583h3v1h-3zM983 583h3v1h-3zM988 583h3v1h-3zM993 583h3v1h-3zM998 583h3v1h-3zM1003 583h3v1h-3zM1008 583h3v1h-3zM1013 583h3v1h-3zM1018 583h3v1h-3zM1023 583h3v1h-3zM1028 583h3v1h-3zM1033 583h3v1h-3zM1038 583h3v1h-3zM1043 583h3v1h-3zM1048 583h3v1h-3zM1053 583h3v1h-3zM1058 583h3v1h-3zM1063 583h3v1h-3zM1068 583h3v1h-3zM1073 583h3v1h-3zM1078 583h3v1h-3zM1083 583h3v1h-3zM1088 583h3v1h-3zM1093 583h3v1h-3zM1098 583h3v1h-3zM1103 583h3v1h-3zM1108 583h3v1h-3zM1113 583h3v1h-3zM1118 583h3v1h-3zM1123 583h3v1h-3zM1128 583h3v1h-3zM1133 583h3v1h-3zM1138 583h3v1h-3zM1143 583h3v1h-3zM1148 583h3v1h-3zM1153 583h3v1h-3zM1158 583h3v1h-3zM1163 583h3v1h-3zM1168 583h3v1h-3zM1173 583h3v1h-3zM1178 583h3v1h-3zM1183 583h3v1h-3zM1188 583h3v1h-3zM1193 583h3v1h-3zM1198 583h3v1h-3zM3 631h3v1h-3zM8 631h3v1h-3zM13 631h3v1h-3zM18 631h3v1h-3zM23 631h3v1h-3zM28 631h3v1h-3zM33 631h3v1h-3zM38 631h3v1h-3zM43 631h3v1h-3zM48 631h3v1h-3zM53 631h3v1h-3zM58 631h3v1h-3zM63 631h3v1h-3zM68 631h3v1h-3zM73 631h3v1h-3zM78 631h3v1h-3zM83 631h3v1h-3zM88 631h3v1h-3zM93 631h3v1h-3zM98 631h3v1h-3zM103 631h3v1h-3zM108 631h3v1h-3zM113 631h3v1h-3zM118 631h3v1h-3zM123 631h3v1h-3zM128 631h3v1h-3zM133 631h3v1h-3zM138 631h3v1h-3zM143 631h3v1h-3zM148 631h3v1h-3zM153 631h3v1h-3zM158 631h3v1h-3zM163 631h3v1h-3zM168 631h3v1h-3zM173 631h3v1h-3zM178 631h3v1h-3zM183 631h3v1h-3zM188 631h3v1h-3zM193 631h3v1h-3zM198 631h3v1h-3zM203 631h3v1h-3zM208 631h3v1h-3zM213 631h3v1h-3zM218 631h3v1h-3zM223 631h3v1h-3zM228 631h3v1h-3zM233 631h3v1h-3zM238 631h3v1h-3zM243 631h3v1h-3zM248 631h3v1h-3zM253 631h3v1h-3zM258 631h3v1h-3zM263 631h3v1h-3zM268 631h3v1h-3zM273 631h3v1h-3zM278 631h3v1h-3zM283 631h3v1h-3zM288 631h3v1h-3zM293 631h3v1h-3zM298 631h3v1h-3zM303 631h3v1h-3zM308 631h3v1h-3zM313 631h3v1h-3zM318 631h3v1h-3zM323 631h3v1h-3zM328 631h3v1h-3zM333 631h3v1h-3zM338 631h3v1h-3zM343 631h3v1h-3zM348 631h3v1h-3zM353 631h3v1h-3zM358 631h3v1h-3zM363 631h3v1h-3zM368 631h3v1h-3zM373 631h3v1h-3zM378 631h3v1h-3zM383 631h3v1h-3zM388 631h3v1h-3zM393 631h3v1h-3zM398 631h3v1h-3zM403 631h3v1h-3zM408 631h3v1h-3zM413 631h3v1h-3zM418 631h3v1h-3zM423 631h3v1h-3zM428 631h3v1h-3zM433 631h3v1h-3zM438 631h3v1h-3zM443 631h3v1h-3zM448 631h3v1h-3zM453 631h3v1h-3zM458 631h3v1h-3zM463 631h3v1h-3zM468 631h3v1h-3zM473 631h3v1h-3zM478 631h3v1h-3zM483 631h3v1h-3zM488 631h3v1h-3zM493 631h3v1h-3zM498 631h3v1h-3zM503 631h3v1h-3zM508 631h3v1h-3zM513 631h3v1h-3zM518 631h3v1h-3zM523 631h3v1h-3zM528 631h3v1h-3zM533 631h3v1h-3zM538 631h3v1h-3zM543 631h3v1h-3zM548 631h3v1h-3zM553 631h3v1h-3zM558 631h3v1h-3zM563 631h3v1h-3zM568 631h3v1h-3zM573 631h3v1h-3zM578 631h3v1h-3zM583 631h3v1h-3zM588 631h3v1h-3zM593 631h3v1h-3zM598 631h3v1h-3zM603 631h3v1h-3zM608 631h3v1h-3zM613 631h3v1h-3zM618 631h3v1h-3zM623 631h3v1h-3zM628 631h3v1h-3zM633 631h3v1h-3zM638 631h3v1h-3zM643 631h3v1h-3zM648 631h3v1h-3zM653 631h3v1h-3zM658 631h3v1h-3zM663 631h3v1h-3zM668 631h3v1h-3zM673 631h3v1h-3zM678 631h3v1h-3zM683 631h3v1h-3zM688 631h3v1h-3zM693 631h3v1h-3zM698 631h3v1h-3zM703 631h3v1h-3zM708 631h3v1h-3zM713 631h3v1h-3zM718 631h3v1h-3zM723 631h3v1h-3zM728 631h3v1h-3zM733 631h3v1h-3zM738 631h3v1h-3zM743 631h3v1h-3zM748 631h3v1h-3zM753 631h3v1h-3zM758 631h3v1h-3zM763 631h3v1h-3zM768 631h3v1h-3zM773 631h3v1h-3zM778 631h3v1h-3zM783 631h3v1h-3zM788 631h3v1h-3zM793 631h3v1h-3zM798 631h3v1h-3zM803 631h3v1h-3zM808 631h3v1h-3zM813 631h3v1h-3zM818 631h3v1h-3zM823 631h3v1h-3zM828 631h3v1h-3zM833 631h3v1h-3zM838 631h3v1h-3zM843 631h3v1h-3zM848 631h3v1h-3zM853 631h3v1h-3zM858 631h3v1h-3zM863 631h3v1h-3zM868 631h3v1h-3zM873 631h3v1h-3zM878 631h3v1h-3zM883 631h3v1h-3zM888 631h3v1h-3zM893 631h3v1h-3zM898 631h3v1h-3zM903 631h3v1h-3zM908 631h3v1h-3zM913 631h3v1h-3zM918 631h3v1h-3zM923 631h3v1h-3zM928 631h3v1h-3zM933 631h3v1h-3zM938 631h3v1h-3zM943 631h3v1h-3zM948 631h3v1h-3zM953 631h3v1h-3zM958 631h3v1h-3zM963 631h3v1h-3zM968 631h3v1h-3zM973 631h3v1h-3zM978 631h3v1h-3zM983 631h3v1h-3zM988 631h3v1h-3zM993 631h3v1h-3zM998 631h3v1h-3zM1003 631h3v1h-3zM1008 631h3v1h-3zM1013 631h3v1h-3zM1018 631h3v1h-3zM1023 631h3v1h-3zM1028 631h3v1h-3zM1033 631h3v1h-3zM1038 631h3v1h-3zM1043 631h3v1h-3zM1048 631h3v1h-3zM1053 631h3v1h-3zM1058 631h3v1h-3zM1063 631h3v1h-3zM1068 631h3v1h-3zM1073 631h3v1h-3zM1078 631h3v1h-3zM1083 631h3v1h-3zM1088 631h3v1h-3zM1093 631h3v1h-3zM1098 631h3v1h-3zM1103 631h3v1h-3zM1108 631h3v1h-3zM1113 631h3v1h-3zM1118 631h3v1h-3zM1123 631h3v1h-3zM1128 631h3v1h-3zM1133 631h3v1h-3zM1138 631h3v1h-3zM1143 631h3v1h-3zM1148 631h3v1h-3zM1153 631h3v1h-3zM1158 631h3v1h-3zM1163 631h3v1h-3zM1168 631h3v1h-3zM1173 631h3v1h-3zM1178 631h3v1h-3zM1183 631h3v1h-3zM1188 631h3v1h-3zM1193 631h3v1h-3zM1198 631h3v1h-3z"/>
<path fill="#1e90ff" d="M402 582h11v1h-11zM399 583h3v1h-3zM413 583h2v1h-2zM636 583h9v1h-9zM202 584h5v1h-5zM397 584h3v1h-3zM207 585h2v1h-2zM215 585h5v1h-5zM395 585h2v1h-2zM415 585h2v1h-2zM646 585h2v1h-2zM209 586h7v1h-7zM220 586h2v1h-2zM249 586h3v1h-3zM417 586h2v1h-2zM431 586h5v1h-5zM647 586h2v1h-2zM245 587h4v1h-4zM252 587h2v1h-2zM419 587h12v1h-12zM649 587h2v1h-2zM240 588h5v1h-5zM651 588h3v1h-3zM236 589h4v1h-4zM654 589h2v1h-2zM33 590h12v1h-12zM225 590h2v1h-2zM231 590h5v1h-5zM656 590h3v1h-3zM31 591h2v1h-2zM45 591h2v1h-2zM227 591h4v1h-4zM257 591h2v1h-2zM466 591h6v1h-6zM659 591h10v1h-10zM29 592h2v1h-2zM259 592h3v1h-3zM472 592h5v1h-5zM669 592h3v1h-3zM23 593h6v1h-6zM262 593h4v1h-4zM378 593h2v1h-2zM463 593h2v1h-2zM477 593h3v1h-3zM671 593h2v1h-2zM16 594h7v1h-7zM49 594h2v1h-2zM266 594h2v1h-2zM375 594h3v1h-3zM479 594h3v1h-3zM673 594h2v1h-2zM12 595h4v1h-4zM51 595h2v1h-2zM374 595h2v1h-2zM461 595h2v1h-2zM482 595h2v1h-2zM508 595h9v1h-9zM675 595h2v1h-2zM53 596h3v1h-3zM65 596h11v1h-11zM194 596h2v1h-2zM371 596h3v1h-3zM445 596h13v1h-13zM499 596h9v1h-9zM677 596h3v1h-3zM55 597h2v1h-2zM63 597h2v1h-2zM443 597h2v1h-2zM458 597h2v1h-2zM497 597h2v1h-2zM537 597h8v1h-8zM679 597h2v1h-2zM688 597h20v1h-20zM57 598h2v1h-2zM60 598h3v1h-3zM191 598h2v1h-2zM535 598h2v1h-2zM545 598h5v1h-5zM575 598h5v1h-5zM681 598h2v1h-2zM685 598h3v1h-3zM97 599h2v1h-2zM100 599h2v1h-2zM533 599h2v1h-2zM550 599h2v1h-2zM571 599h5v1h-5zM683 599h2v1h-2zM102 600h2v1h-2zM179 600h3v1h-3zM385 600h3v1h-3zM528 600h5v1h-5zM551 600h3v1h-3zM569 600h2v1h-2zM626 600h2v1h-2zM709 600h2v1h-2zM103 601h2v1h-2zM131 601h13v1h-13zM151 601h6v1h-6zM182 601h3v1h-3zM188 601h2v1h-2zM524 601h4v1h-4zM554 601h3v1h-3zM567 601h2v1h-2zM581 601h2v1h-2zM93 602h2v1h-2zM129 602h2v1h-2zM143 602h9v1h-9zM157 602h2v1h-2zM185 602h3v1h-3zM557 602h3v1h-3zM566 602h2v1h-2zM623 602h2v1h-2zM106 603h3v1h-3zM560 603h3v1h-3zM564 603h2v1h-2zM610 603h5v1h-5zM622 603h2v1h-2zM88 604h4v1h-4zM109 604h3v1h-3zM160 604h3v1h-3zM275 604h6v1h-6zM360 604h4v1h-4zM608 604h2v1h-2zM615 604h3v1h-3zM620 604h2v1h-2zM85 605h3v1h-3zM111 605h3v1h-3zM163 605h2v1h-2zM281 605h11v1h-11zM347 605h6v1h-6zM357 605h3v1h-3zM618 605h2v1h-2zM83 606h2v1h-2zM114 606h4v1h-4zM125 606h2v1h-2zM292 606h2v1h-2zM345 606h2v1h-2zM353 606h4v1h-4zM118 607h3v1h-3zM166 607h2v1h-2zM604 607h2v1h-2zM858 607h3v1h-3zM121 608h3v1h-3zM313 608h3v1h-3zM590 608h14v1h-14zM856 608h2v1h-2zM861 608h2v1h-2zM168 609h2v1h-2zM309 609h4v1h-4zM316 609h2v1h-2zM587 609h3v1h-3zM296 610h2v1h-2zM305 610h4v1h-4zM318 610h2v1h-2zM341 610h2v1h-2zM853 610h2v1h-2zM863 610h2v1h-2zM923 610h4v1h-4zM302 611h3v1h-3zM851 611h2v1h-2zM865 611h2v1h-2zM921 611h2v1h-2zM927 611h4v1h-4zM299 612h3v1h-3zM320 612h2v1h-2zM338 612h2v1h-2zM849 612h2v1h-2zM867 612h2v1h-2zM931 612h6v1h-6zM322 613h2v1h-2zM335 613h3v1h-3zM847 613h2v1h-2zM869 613h2v1h-2zM937 613h11v1h-11zM324 614h4v1h-4zM333 614h3v1h-3zM846 614h2v1h-2zM328 615h5v1h-5zM821 615h2v1h-2zM835 615h5v1h-5zM844 615h2v1h-2zM871 615h2v1h-2zM899 615h3v1h-3zM917 615h2v1h-2zM833 616h2v1h-2zM839 616h5v1h-5zM873 616h2v1h-2zM897 616h2v1h-2zM902 616h4v1h-4zM831 617h2v1h-2zM875 617h3v1h-3zM906 617h10v1h-10zM824 618h2v1h-2zM830 618h2v1h-2zM878 618h3v1h-3zM828 619h2v1h-2zM881 619h4v1h-4zM885 620h3v1h-3zM887 621h3v1h-3zM892 621h2v1h-2zM890 622h2v1h-2zM758 624h9v1h-9zM810 624h2v1h-2zM754 625h4v1h-4zM767 625h3v1h-3zM752 626h2v1h-2zM770 626h3v1h-3zM773 627h2v1h-2zM749 628h2v1h-2zM775 628h2v1h-2zM747 629h2v1h-2zM777 629h2v1h-2zM794 629h5v1h-5zM744 630h3v1h-3zM779 630h3v1h-3zM792 630h2v1h-2zM799 630h6v1h-6zM731 631h4v1h-4zM782 631h2v1h-2zM735 632h3v1h-3zM740 632h3v1h-3zM784 632h2v1h-2zM788 632h3v1h-3zM738 633h2v1h-2zM786 633h2v1h-2zM3 584h1v1h-1zM4 585h1v2h-1zM5 587h1v1h-1zM6 588h1v2h-1zM7 590h1v1h-1zM8 591h1v2h-1zM9 593h1v1h-1zM10 594h1v2h-1zM11 596h1v1h-1zM47 592h1v1h-1zM48 593h1v1h-1zM59 599h1v1h-1zM76 597h1v1h-1zM77 598h1v1h-1zM78 599h1v1h-1zM79 600h1v2h-1zM80 602h1v1h-1zM81 603h1v1h-1zM82 604h1v2h-1zM92 603h1v1h-1zM95 601h1v1h-1zM96 600h1v1h-1zM99 598h1v1h-1zM105 602h1v1h-1zM124 607h1v1h-1zM127 604h1v2h-1zM128 603h1v1h-1zM159 603h1v1h-1zM165 606h1v1h-1zM167 608h1v1h-1zM170 610h1v1h-1zM171 611h1v1h-1zM172 609h1v2h-1zM173 608h1v1h-1zM174 607h1v1h-1zM175 605h1v2h-1zM176 604h1v1h-1zM177 603h1v1h-1zM178 601h1v2h-1zM190 600h1v1h-1zM191 599h1v1h-1zM193 597h1v1h-1zM196 594h1v2h-1zM197 592h1v2h-1zM198 591h1v1h-1zM199 589h1v2h-1zM200 588h1v1h-1zM201 586h1v2h-1zM202 585h1v1h-1zM222 587h1v1h-1zM223 588h1v1h-1zM224 589h1v1h-1zM254 588h1v1h-1zM255 589h1v1h-1zM256 590h1v1h-1zM268 595h1v1h-1zM269 596h1v2h-1zM270 598h1v1h-1zM271 599h1v1h-1zM272 600h1v1h-1zM273 601h1v2h-1zM274 603h1v1h-1zM294 607h1v1h-1zM295 608h1v2h-1zM298 611h1v1h-1zM319 611h1v1h-1zM340 611h1v1h-1zM343 608h1v2h-1zM344 607h1v1h-1zM364 603h1v1h-1zM365 602h1v1h-1zM366 601h1v1h-1zM367 600h1v1h-1zM368 599h1v1h-1zM369 598h1v1h-1zM370 597h1v1h-1zM380 594h1v1h-1zM381 595h1v1h-1zM382 596h1v1h-1zM383 597h1v2h-1zM384 599h1v1h-1zM387 601h1v1h-1zM388 599h1v1h-1zM389 597h1v2h-1zM390 595h1v2h-1zM391 593h1v2h-1zM392 591h1v2h-1zM393 589h1v2h-1zM394 587h1v2h-1zM395 586h1v1h-1zM415 584h1v1h-1zM436 587h1v2h-1zM437 589h1v1h-1zM438 590h1v1h-1zM439 591h1v2h-1zM440 593h1v1h-1zM441 594h1v1h-1zM442 595h1v2h-1zM460 596h1v1h-1zM463 594h1v1h-1zM465 592h1v1h-1zM484 596h1v1h-1zM485 597h1v1h-1zM486 598h1v1h-1zM487 599h1v2h-1zM488 601h1v1h-1zM489 602h1v1h-1zM490 603h1v1h-1zM491 604h1v1h-1zM492 603h1v1h-1zM493 602h1v1h-1zM494 601h1v1h-1zM495 599h1v2h-1zM496 598h1v1h-1zM517 596h1v1h-1zM518 597h1v1h-1zM519 598h1v1h-1zM520 599h1v1h-1zM521 600h1v1h-1zM522 601h1v1h-1zM523 602h1v1h-1zM563 604h1v1h-1zM580 599h1v2h-1zM582 602h1v1h-1zM583 603h1v1h-1zM584 604h1v2h-1zM585 606h1v1h-1zM586 607h1v2h-1zM606 606h1v1h-1zM607 605h1v1h-1zM625 601h1v1h-1zM627 599h1v1h-1zM628 597h1v2h-1zM629 595h1v2h-1zM630 593h1v2h-1zM631 591h1v2h-1zM632 589h1v2h-1zM633 587h1v2h-1zM634 585h1v2h-1zM635 584h1v1h-1zM645 584h1v1h-1zM708 598h1v2h-1zM710 601h1v1h-1zM711 602h1v1h-1zM712 603h1v2h-1zM713 605h1v1h-1zM714 606h1v2h-1zM715 608h1v1h-1zM716 609h1v2h-1zM717 611h1v1h-1zM718 612h1v1h-1zM719 613h1v2h-1zM720 615h1v1h-1zM721 616h1v1h-1zM722 617h1v1h-1zM723 618h1v1h-1zM724 619h1v2h-1zM725 621h1v2h-1zM726 623h1v1h-1zM727 624h1v2h-1zM728 626h1v1h-1zM729 627h1v2h-1zM730 629h1v2h-1zM743 631h1v1h-1zM751 627h1v1h-1zM791 631h1v1h-1zM805 629h1v1h-1zM806 628h1v1h-1zM807 627h1v1h-1zM808 626h1v1h-1zM809 625h1v1h-1zM812 622h1v2h-1zM813 621h1v1h-1zM814 620h1v1h-1zM815 618h1v2h-1zM816 617h1v1h-1zM817 616h1v1h-1zM818 614h1v2h-1zM819 613h1v1h-1zM820 614h1v1h-1zM823 616h1v2h-1zM826 619h1v1h-1zM827 620h1v1h-1zM855 609h1v1h-1zM863 609h1v1h-1zM871 614h1v1h-1zM894 620h1v1h-1zM895 618h1v2h-1zM896 617h1v1h-1zM916 616h1v1h-1zM919 613h1v2h-1zM920 612h1v1h-1z"/>
<g fill="#000">
<rect x="2" y="4" width="1202" height="1"/>
<rect x="2" y="404" width="1202" height="1"/>
<rect x="2" y="4" width="1" height="401"/>
<rect x="2" y="406" width="1202" height="1"/>
<rect x="2" y="544" width="1202" height="1"/>
<rect x="2" y="406" width="1" height="139"/>
<rect x="2" y="546" width="1202" height="1"/>
<rect x="2" y="667" width="1202" height="1"/>
<rect x="2" y="546" width="1" height="122"/>
<rect x="1203" y="4" width="1" height="664"/>
<rect x="1204" y="38" width="2" height="1"/>
<rect x="1204" y="71" width="2" height="1"/>
<rect x="1204" y="104" width="2" height="1"/>
<rect x="1204" y="137" width="2" height="1"/>
<rect x="1204" y="170" width="2" height="1"/>
<rect x="1204" y="203" width="2" height="1"/>
<rect x="1204" y="236" width="2" height="1"/>
<rect x="1204" y="269" width="2" height="1"/>
<rect x="1204" y="302" width="2" height="1"/>
<rect x="1204" y="335" width="2" height="1"/>
<rect x="1204" y="368" width="2" height="1"/>
<rect x="1204" y="401" width="2" height="1"/>
<rect x="1204" y="408" width="1" height="1"/>
<rect x="1204" y="484" width="1" height="1"/>
<rect x="1204" y="543" width="1" height="1"/>
<rect x="1204" y="548" width="1" height="1"/>
<rect x="1204" y="666" width="1" height="1"/>
<rect x="3" y="668" width="1" height="3"/>
<rect x="67" y="668" width="1" height="3"/>
<rect x="131" y="668" width="1" height="3"/>
<rect x="195" y="668" width="1" height="3"/>
<rect x="259" y="668" width="1" height="3"/>
<rect x="323" y="668" width="1" height="3"/>
<rect x="387" y="668" width="1" height="3"/>
<rect x="451" y="668" width="1" height="3"/>
<rect x="515" y="668" width="1" height="3"/>
<rect x="579" y="668" width="1" height="3"/>
<rect x="643" y="668" width="1" height="3"/>
<rect x="707" y="668" width="1" height="3"/>
<rect x="771" y="668" width="1" height="3"/>
<rect x="835" y="668" width="1" height="3"/>
<rect x="899" y="668" width="1" height="3"/>
<rect x="6" y="11" width="7" height="1"/><rect x="7" y="12" width="5" height="1"/><rect x="8" y="13" width="3" height="1"/><rect x="9" y="14" width="1" height="1"/>
</g>
<path fill="#b8b8b8" d="M957 5h9v1h-9zM958 6h7v1h-7zM959 7h5v1h-5zM960 8h3v1h-3zM961 9h1v1h-1z"/>
<rect x="1206" y="42" width="39" height="11" fill="#ff0000"/>
<rect x="1206" y="229" width="39" height="11" fill="#00d000"/>
<rect x="1206" y="275" width="39" height="11" fill="#000"/>
<rect x="1206" y="384" width="39" height="11" fill="#4158e6"/>
</g>
<text class="t" x="17.54" y="16" textLength="57.64" lengthAdjust="spacingAndGlyphs">XAUUSD-,H4</text>
<text class="t" x="81.80" y="16" textLength="31.16" lengthAdjust="spacingAndGlyphs">1792.59</text>
<text class="t" x="117.22" y="16" textLength="31.57" lengthAdjust="spacingAndGlyphs">1793.00</text>
<text class="t" x="153.39" y="16" textLength="31.58" lengthAdjust="spacingAndGlyphs">1792.46</text>
<text class="t" x="189.04" y="16" textLength="32.41" lengthAdjust="spacingAndGlyphs">1792.74</text>
<text class="t" x="6.12" y="419" textLength="66.50" lengthAdjust="spacingAndGlyphs">MACD(12,26,9)</text>
<text class="t" x="75.96" y="419" textLength="25.62" lengthAdjust="spacingAndGlyphs">-3.027</text>
<text class="t" x="104.66" y="419" textLength="25.34" lengthAdjust="spacingAndGlyphs">-3.846</text>
<text class="t" x="6.29" y="559" textLength="32.61" lengthAdjust="spacingAndGlyphs">RSI(14)</text>
<text class="t" x="42.30" y="559" textLength="31.70" lengthAdjust="spacingAndGlyphs">45.3595</text>
<text class="t" x="1209.04" y="42" textLength="32.46" lengthAdjust="spacingAndGlyphs">1831.70</text>
<text class="t" x="1209.04" y="75" textLength="32.46" lengthAdjust="spacingAndGlyphs">1826.30</text>
<text class="t" x="1209.04" y="108" textLength="32.46" lengthAdjust="spacingAndGlyphs">1821.05</text>
<text class="t" x="1209.04" y="141" textLength="32.46" lengthAdjust="spacingAndGlyphs">1815.80</text>
<text class="t" x="1209.04" y="174" textLength="32.46" lengthAdjust="spacingAndGlyphs">1810.40</text>
<text class="t" x="1209.04" y="207" textLength="32.46" lengthAdjust="spacingAndGlyphs">1805.15</text>
<text class="t" x="1209.04" y="273" textLength="32.46" lengthAdjust="spacingAndGlyphs">1794.50</text>
<text class="t" x="1209.04" y="306" textLength="32.46" lengthAdjust="spacingAndGlyphs">1789.25</text>
<text class="t" x="1209.04" y="339" textLength="32.46" lengthAdjust="spacingAndGlyphs">1783.85</text>
<text class="t" x="1209.04" y="372" textLength="32.46" lengthAdjust="spacingAndGlyphs">1778.60</text>
<text class="t" x="1209.04" y="405" textLength="32.46" lengthAdjust="spacingAndGlyphs">1773.35</text>
<text class="t w" x="1209.04" y="51" textLength="32.46" lengthAdjust="spacingAndGlyphs">1830.00</text>
<text class="t w" x="1209.04" y="238" textLength="32.46" lengthAdjust="spacingAndGlyphs">1800.00</text>
<text class="t w" x="1209.04" y="284" textLength="32.41" lengthAdjust="spacingAndGlyphs">1792.74</text>
<text class="t w" x="1209.04" y="393" textLength="32.46" lengthAdjust="spacingAndGlyphs">1775.00</text>
<text class="t" x="1206.43" y="417" textLength="22.87" lengthAdjust="spacingAndGlyphs">9.921</text>
<text class="t" x="1206.54" y="488" textLength="17.72" lengthAdjust="spacingAndGlyphs">0.00</text>
<text class="t" x="1206.46" y="541" textLength="25.91" lengthAdjust="spacingAndGlyphs">-7.753</text>
<text class="t" x="1207.13" y="557" textLength="13.37" lengthAdjust="spacingAndGlyphs">100</text>
<text class="t" x="1205.43" y="587" textLength="9.97" lengthAdjust="spacingAndGlyphs">70</text>
<text class="t" x="1205.43" y="635" textLength="9.96" lengthAdjust="spacingAndGlyphs">30</text>
<text class="t" x="1207.30" y="664" textLength="4.42" lengthAdjust="spacingAndGlyphs">0</text>
<text class="t" x="1.97" y="680" textLength="52.66" lengthAdjust="spacingAndGlyphs">17 Aug 2021</text>
<text class="t" x="65.69" y="680" textLength="55.90" lengthAdjust="spacingAndGlyphs">18 Aug 16:00</text>
<text class="t" x="129.41" y="680" textLength="56.04" lengthAdjust="spacingAndGlyphs">20 Aug 00:00</text>
<text class="t" x="193.41" y="680" textLength="56.04" lengthAdjust="spacingAndGlyphs">23 Aug 08:00</text>
<text class="t" x="257.41" y="680" textLength="56.04" lengthAdjust="spacingAndGlyphs">24 Aug 16:00</text>
<text class="t" x="321.41" y="680" textLength="56.04" lengthAdjust="spacingAndGlyphs">26 Aug 00:00</text>
<text class="t" x="385.41" y="680" textLength="56.04" lengthAdjust="spacingAndGlyphs">27 Aug 08:00</text>
<text class="t" x="449.38" y="680" textLength="56.06" lengthAdjust="spacingAndGlyphs">30 Aug 16:00</text>
<text class="t" x="513.91" y="680" textLength="48.58" lengthAdjust="spacingAndGlyphs">1 Sep 00:00</text>
<text class="t" x="577.68" y="680" textLength="49.48" lengthAdjust="spacingAndGlyphs">2 Sep 08:00</text>
<text class="t" x="641.73" y="680" textLength="49.17" lengthAdjust="spacingAndGlyphs">3 Sep 16:00</text>
<text class="t" x="705.40" y="680" textLength="49.34" lengthAdjust="spacingAndGlyphs">7 Sep 00:00</text>
<text class="t" x="769.43" y="680" textLength="50.04" lengthAdjust="spacingAndGlyphs">8 Sep 08:00</text>
<text class="t" x="833.51" y="680" textLength="49.73" lengthAdjust="spacingAndGlyphs">9 Sep 16:00</text>
<text class="t" x="898.23" y="680" textLength="54.08" lengthAdjust="spacingAndGlyphs">13 Sep 00:00</text>
<text class="cn" x="897.8" y="150">多空转折点1800</text>
</svg></body></html>
